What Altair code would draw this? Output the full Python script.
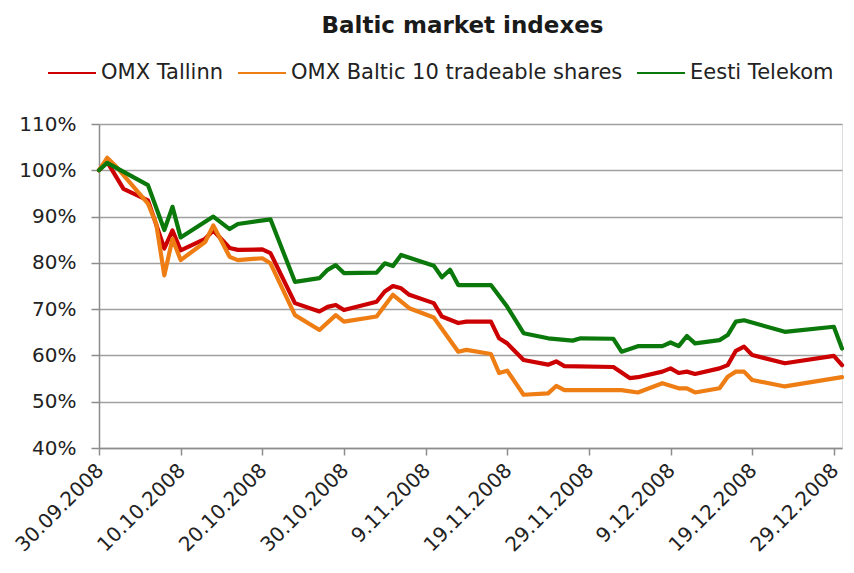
import altair as alt
import pandas as pd

series_names = ["OMX Tallinn", "OMX Baltic 10 tradeable shares", "Eesti Telekom"]
series_colors = ["#cc0000", "#ee7d14", "#0a780a"]

# day offsets from 30.09.2008 and values (%)
tallinn_days = [0, 1, 3, 6, 8, 9, 10, 13, 14, 16, 17, 20, 21, 24, 27, 28, 29, 30, 34, 35, 36, 37, 38,
                41, 42, 44, 45, 48, 49, 50, 52, 55, 56, 57, 63, 65, 66, 69, 70, 71, 72, 73, 76, 77, 78,
                79, 80, 84, 90, 91]
tallinn_vals = [100, 101.8, 96.0, 93.5, 83.1, 87.0, 82.7, 85.2, 87.0, 83.2, 82.8, 82.9, 82.1, 71.3, 69.5,
                70.5, 70.9, 69.8, 71.6, 73.8, 75.0, 74.5, 73.1, 71.3, 68.4, 67.0, 67.3, 67.3, 63.7, 62.6,
                59.0, 58.0, 58.7, 57.7, 57.5, 55.1, 55.3, 56.5, 57.2, 56.2, 56.5, 56.0, 57.2, 57.9, 61.0,
                61.9, 60.1, 58.3, 59.9, 57.9]

baltic_days = [0, 1, 2, 6, 7, 8, 9, 10, 13, 14, 16, 17, 20, 21, 24, 27, 29, 30, 34, 36, 38, 41, 44, 45,
               48, 49, 50, 52, 55, 56, 57, 63, 64, 66, 69, 71, 72, 73, 76, 77, 78, 79, 80, 84, 91]
baltic_vals = [100, 102.7, 101.0, 92.8, 88.5, 77.3, 85.2, 80.6, 84.5, 88.1, 81.3, 80.6, 81.0, 79.9, 68.7,
               65.5, 68.7, 67.3, 68.4, 73.1, 70.2, 68.2, 60.8, 61.2, 60.3, 56.2, 56.7, 51.5, 51.8, 53.4,
               52.5, 52.5, 52.5, 52.0, 54.0, 52.9, 52.9, 52.0, 52.9, 55.4, 56.5, 56.5, 54.7, 53.3, 55.3]

telekom_days = [0, 1, 6, 8, 9, 10, 14, 16, 17, 21, 24, 27, 28, 29, 30, 34, 35, 36, 37, 41, 42, 43, 44,
                48, 50, 52, 55, 58, 59, 63, 64, 66, 69, 70, 71, 72, 73, 76, 77, 78, 79, 84, 90, 91]
telekom_vals = [100, 101.6, 96.8, 87.1, 92.1, 85.5, 90.0, 87.3, 88.4, 89.4, 75.9, 76.7, 78.5, 79.5, 77.8,
                77.9, 79.9, 79.3, 81.7, 79.4, 76.9, 78.5, 75.2, 75.2, 70.5, 64.8, 63.7, 63.2, 63.7, 63.6,
                60.8, 62.0, 62.0, 62.8, 62.0, 64.2, 62.6, 63.3, 64.4, 67.3, 67.6, 65.1, 66.2, 61.5]

tick_dates = ["2008-09-30", "2008-10-10", "2008-10-20", "2008-10-30", "2008-11-09", "2008-11-19",
              "2008-11-29", "2008-12-09", "2008-12-19", "2008-12-29"]

start = pd.Timestamp("2008-09-30")
frames = []
for name, days, vals in [(series_names[0], tallinn_days, tallinn_vals),
                         (series_names[1], baltic_days, baltic_vals),
                         (series_names[2], telekom_days, telekom_vals)]:
    frames.append(pd.DataFrame({
        "date": [(start + pd.Timedelta(days=d)).strftime("%Y-%m-%dT%H:%M:%S") for d in days],
        "value": [v / 100 for v in vals],
        "series": name,
    }))
df = pd.concat(frames, ignore_index=True)

def dt(s):
    y, m, d = (int(p) for p in s.split("-"))
    return alt.DateTime(year=y, month=m, date=d)

chart = alt.Chart(df).mark_line(strokeWidth=4.2, strokeJoin="round", strokeCap="round").encode(
    x=alt.X("date:T",
            scale=alt.Scale(domain=[dt("2008-09-30"), dt("2008-12-30")]),
            axis=alt.Axis(values=[dt(s) for s in tick_dates], format="%-d.%m.%Y", labelAngle=-45,
                          title=None, grid=False, tickSize=7, labelPadding=5, labelOffset=-6,
                          labelFont="DejaVu Sans", labelFontSize=20, labelColor="#222222",
                          domainColor="#8c8c8c", domainWidth=1.5, tickColor="#8c8c8c", tickWidth=1.5,
                          labelOverlap=False, labelBound=False, labelFlush=False)),
    y=alt.Y("value:Q",
            scale=alt.Scale(domain=[0.4, 1.1], nice=False, zero=False),
            axis=alt.Axis(values=[0.4, 0.5, 0.6, 0.7, 0.8, 0.9, 1.0, 1.1], format=".0%", title=None,
                          grid=True, gridColor="#a0a0a0", gridWidth=1.5, tickSize=8, labelPadding=15,
                          labelFont="DejaVu Sans", labelFontSize=20, labelColor="#222222",
                          domainColor="#8c8c8c", domainWidth=1.5, tickColor="#8c8c8c", tickWidth=1.5)),
    color=alt.Color("series:N",
                    scale=alt.Scale(domain=series_names, range=series_colors),
                    legend=alt.Legend(title=None, orient="none", direction="horizontal",
                                      legendX=-52, legendY=-76,
                                      symbolType="stroke", symbolSize=2304, symbolStrokeWidth=2,
                                      labelFont="DejaVu Sans", labelFontSize=21, labelColor="#222222",
                                      labelLimit=500, labelOffset=4, columnPadding=10)),
).properties(
    width=743,
    height=324,
    title=alt.TitleParams("Baltic market indexes", font="DejaVu Sans", fontSize=23, fontWeight="bold",
                          color="#1a1a1a", anchor="middle", dx=-8, offset=10),
    autosize=alt.AutoSizeParams(type="none"),
    padding={"left": 91, "top": 116, "right": 4, "bottom": 116},
).configure_view(stroke=None).configure(background="white")

chart.save("out.html", embed_options={"renderer": "svg", "actions": False})
